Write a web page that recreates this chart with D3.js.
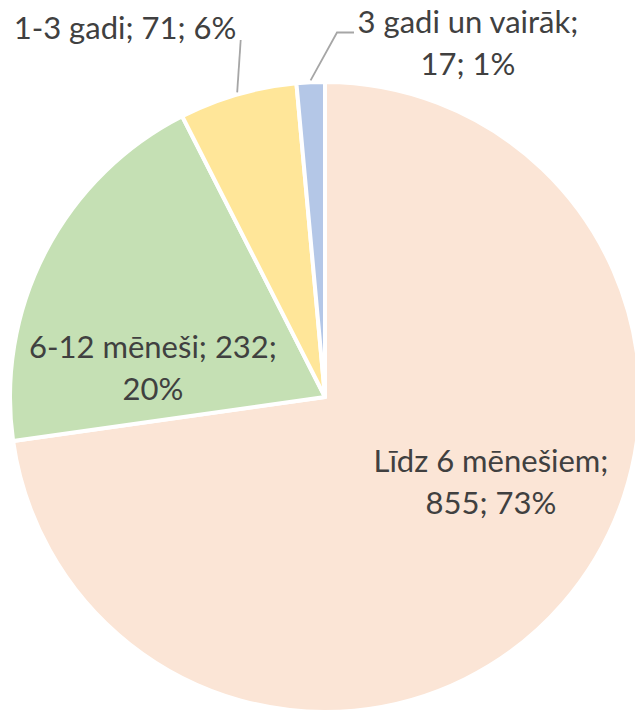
<!DOCTYPE html>
<html>
<head>
<meta charset="utf-8">
<script src="https://cdn.jsdelivr.net/npm/d3@7"></script>
<style>
  html, body { margin: 0; padding: 0; background: #ffffff; }
  svg { display: block; }
  text { font-family: Lato, "Open Sans", sans-serif; fill: #404040; }
</style>
</head>
<body>
<svg id="chart" width="635" height="713"></svg>
<script>
// ---- data ----
const categories = ["Līdz 6 mēnešiem", "6-12 mēneši", "1-3 gadi", "3 gadi un vairāk"];
const values = [855, 232, 71, 17];
const percents = ["73%", "20%", "6%", "1%"];
const colors = ["#FBE5D6", "#C5E0B4", "#FFE699", "#B4C7E7"];

// ---- layout ----
const W = 635, H = 713;
const cx = 325, cy = 397, R = 315;
const fontSize = 31, lineGap = 42;
// label anchor (center x, first baseline) and line breaking, per category
const labelLayout = [
  { x: 491, y: 472, lines: d => [d.cat + ";", d.val + "; " + d.pct] },
  { x: 153, y: 358, lines: d => [d.cat + "; " + d.val + ";", d.pct] },
  { x: 125, y: 38.5, lines: d => [d.cat + "; " + d.val + "; " + d.pct] },
  { x: 468, y: 32.5, lines: d => [d.cat + ";", d.val + "; " + d.pct] }
];
// leader line bends (only for outside labels)
const leaders = [null, null, [[240.7, 40]], [[337, 32.5], [354, 32.5]]];

const svg = d3.select("#chart");
const data = categories.map((c, i) => ({ cat: c, val: values[i], pct: percents[i], color: colors[i] }));

const pie = d3.pie().sort(null).value(d => d.val);
const arcs = pie(data);
const arc = d3.arc().innerRadius(0).outerRadius(R);

const g = svg.append("g").attr("transform", `translate(${cx},${cy})`);
g.selectAll("path.slice")
  .data(arcs)
  .join("path")
  .attr("class", "slice")
  .attr("d", arc)
  .attr("fill", d => d.data.color)
  .attr("stroke", "#ffffff")
  .attr("stroke-width", 4)
  .attr("stroke-linejoin", "round");

// leader lines
arcs.forEach((a, i) => {
  if (!leaders[i]) return;
  const mid = (a.startAngle + a.endAngle) / 2;
  const start = [cx + (R + 2) * Math.sin(mid), cy - (R + 2) * Math.cos(mid)];
  const pts = [start].concat(leaders[i]);
  svg.append("path")
    .attr("d", d3.line()(pts))
    .attr("fill", "none")
    .attr("stroke", "#A6A6A6")
    .attr("stroke-width", 1.8);
});

// labels
arcs.forEach((a, i) => {
  const L = labelLayout[i];
  const t = svg.append("text")
    .attr("text-anchor", "middle")
    .attr("font-size", fontSize);
  L.lines(a.data).forEach((ln, k) => {
    t.append("tspan").attr("x", L.x).attr("y", L.y + k * lineGap).text(ln);
  });
});
</script>
</body>
</html>
